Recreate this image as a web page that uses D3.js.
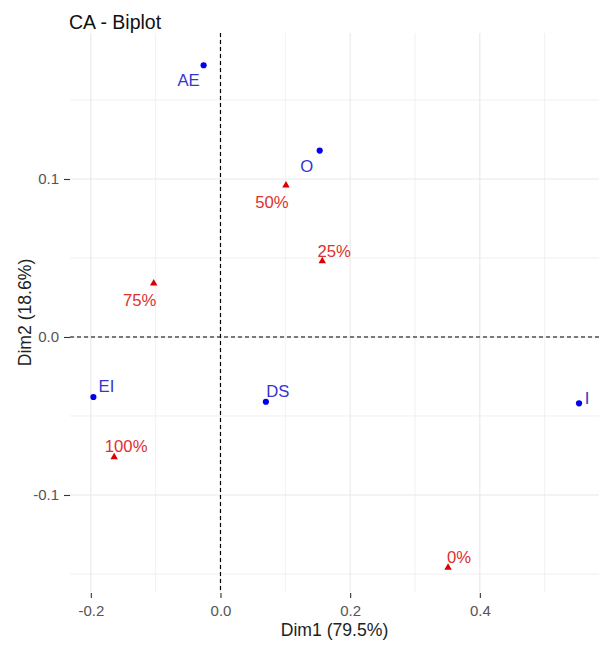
<!DOCTYPE html>
<html>
<head>
<meta charset="utf-8">
<script src="https://cdn.jsdelivr.net/npm/d3@7"></script>
<style>
  body { margin: 0; background: #fff; }
  svg { font-family: "Liberation Sans", Arial, sans-serif; }
</style>
</head>
<body>
<svg id="chart" width="601" height="646"></svg>
<script>
// row points (blue circles)
const rowNames = ['AE', 'O', 'EI', 'DS', 'I'];
const rowDim1 = [-0.026, 0.153, -0.196, 0.070, 0.553];
const rowDim2 = [0.172, 0.118, -0.038, -0.041, -0.042];

// column points (red triangles)
const colNames = ['50%', '25%', '75%', '100%', '0%'];
const colDim1 = [0.101, 0.157, -0.103, -0.164, 0.351];
const colDim2 = [0.096, 0.048, 0.034, -0.076, -0.146];

const xTicks = [-0.2, 0.0, 0.2, 0.4];
const xMinor = [-0.1, 0.1, 0.3, 0.5];
const yTicks = [-0.1, 0.0, 0.1];
const yMinor = [-0.15, -0.05, 0.05, 0.15];

// label nudges (px) standing in for ggrepel placement
const labelNudge = {
  'AE': [-15, 21], 'O': [-13, 21], 'EI': [13, -5], 'DS': [12, -5], 'I': [8, 1],
  '50%': [-14, 23], '25%': [12, -4], '75%': [-14, 23], '100%': [12, -5], '0%': [11, -5]
};

const svg = d3.select('#chart');
const L = 70, R = 599, T = 33, B = 592;

const x = d3.scaleLinear().domain([-0.2321, 0.5838]).range([L, R]);
const y = d3.scaleLinear().domain([-0.1614, 0.1924]).range([B, T]);

// grid
const grid = svg.append('g');
grid.selectAll('.vmin').data(xMinor).join('line')
  .attr('x1', d => x(d)).attr('x2', d => x(d)).attr('y1', T).attr('y2', B)
  .attr('stroke', '#efefef').attr('stroke-width', 0.9);
grid.selectAll('.hmin').data(yMinor).join('line')
  .attr('x1', L).attr('x2', R).attr('y1', d => y(d)).attr('y2', d => y(d))
  .attr('stroke', '#efefef').attr('stroke-width', 0.9);
grid.selectAll('.vmaj').data(xTicks).join('line')
  .attr('x1', d => x(d)).attr('x2', d => x(d)).attr('y1', T).attr('y2', B)
  .attr('stroke', '#e8e8e8').attr('stroke-width', 1.1);
grid.selectAll('.hmaj').data(yTicks).join('line')
  .attr('x1', L).attr('x2', R).attr('y1', d => y(d)).attr('y2', d => y(d))
  .attr('stroke', '#e8e8e8').attr('stroke-width', 1.1);

// axes (plain hyphen minus like R)
const fmt = d => d.toFixed(1);
const xAxis = svg.append('g').attr('transform', `translate(0,${B + 1})`)
  .call(d3.axisBottom(x).tickValues(xTicks).tickFormat(fmt).tickSize(5).tickPadding(7));
const yAxis = svg.append('g').attr('transform', `translate(${L},0)`)
  .call(d3.axisLeft(y).tickValues(yTicks).tickFormat(fmt).tickSize(6).tickPadding(5));
[xAxis, yAxis].forEach(a => {
  a.select('.domain').remove();
  a.selectAll('line').attr('stroke', '#333').attr('stroke-width', 1.1);
  a.selectAll('text').attr('fill', '#555').attr('font-size', 15)
    .attr('font-family', '"Liberation Sans", Arial, sans-serif');
});

// reference lines
svg.append('line').attr('x1', x(0)).attr('x2', x(0)).attr('y1', T).attr('y2', B)
  .attr('stroke', '#000').attr('stroke-width', 1.2).attr('stroke-dasharray', '4,3');
svg.append('line').attr('x1', L).attr('x2', R).attr('y1', y(0)).attr('y2', y(0))
  .attr('stroke', '#000').attr('stroke-width', 1.2).attr('stroke-dasharray', '4,3');

// points
const rows = rowNames.map((n, i) => ({ name: n, d1: rowDim1[i], d2: rowDim2[i] }));
const cols = colNames.map((n, i) => ({ name: n, d1: colDim1[i], d2: colDim2[i] }));

svg.append('g').selectAll('path').data(rows).join('path')
  .attr('d', d3.symbol(d3.symbolCircle, 30))
  .attr('transform', d => `translate(${x(d.d1)},${y(d.d2)})`)
  .attr('fill', '#0000ee');
svg.append('g').selectAll('path').data(cols).join('path')
  .attr('d', d3.symbol(d3.symbolTriangle, 24))
  .attr('transform', d => `translate(${x(d.d1)},${y(d.d2)})`)
  .attr('fill', '#dd0000');

// labels
svg.append('g').selectAll('text').data(rows).join('text')
  .attr('x', d => x(d.d1) + labelNudge[d.name][0])
  .attr('y', d => y(d.d2) + labelNudge[d.name][1])
  .attr('text-anchor', 'middle').attr('font-size', 16.7)
  .attr('fill', '#3535d0').text(d => d.name);
svg.append('g').selectAll('text').data(cols).join('text')
  .attr('x', d => x(d.d1) + labelNudge[d.name][0])
  .attr('y', d => y(d.d2) + labelNudge[d.name][1])
  .attr('text-anchor', 'middle').attr('font-size', 16.7)
  .attr('fill', '#dd3030').text(d => d.name);

// titles
svg.append('text').attr('x', 69).attr('y', 29).attr('font-size', 19.5)
  .attr('fill', '#111').text('CA - Biplot');
svg.append('text').attr('x', (L + R) / 2).attr('y', 636).attr('text-anchor', 'middle')
  .attr('font-size', 17.6).attr('fill', '#222').text('Dim1 (79.5%)');
svg.append('text').attr('transform', `translate(31,${(T + B) / 2}) rotate(-90)`)
  .attr('text-anchor', 'middle').attr('font-size', 17.6).attr('fill', '#222')
  .text('Dim2 (18.6%)');
</script>
</body>
</html>
